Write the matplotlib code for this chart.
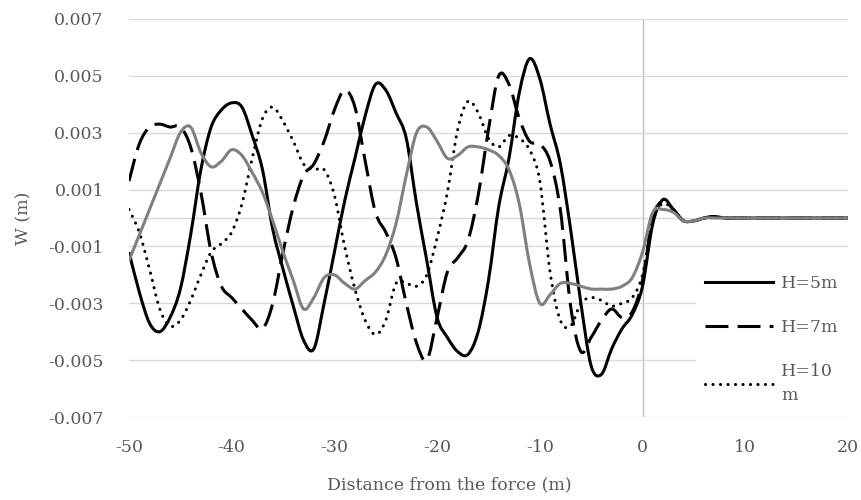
import matplotlib
matplotlib.use("Agg")
import matplotlib.pyplot as plt
from matplotlib.ticker import FixedLocator
from matplotlib.path import Path
from matplotlib.patches import PathPatch
from matplotlib.lines import Line2D

# Distance from the applied force (m)
distance = list(range(-50, 21))

# Vertical displacement W (m) for each water depth
w_h5 = [-0.0012, -0.0026, -0.0037, -0.0040, -0.0035, -0.0025, -0.0006, 0.0017, 0.0032, 0.0038,
        0.00405, 0.0039, 0.0029, 0.0017, -0.0004, -0.0018, -0.0031, -0.0043, -0.0046, -0.0030,
        -0.0012, 0.0006, 0.0021, 0.0036, 0.0047, 0.0045, 0.0037, 0.0028, 0.0005, -0.0015,
        -0.0035, -0.0042, -0.0047, -0.0048, -0.0040, -0.0022, 0.0004, 0.0021, 0.0044, 0.0056,
        0.0049, 0.0033, 0.0019, -0.0004, -0.0030, -0.0052, -0.0055, -0.0046, -0.0039, -0.0034,
        -0.0024, -0.0002, 0.00065, 0.0003, -0.0001, -0.0001, 0.0, 0.00005, 0.0, 0.0,
        0.0, 0.0, 0.0, 0.0, 0.0, 0.0, 0.0, 0.0, 0.0, 0.0, 0.0]

w_h7 = [0.0013, 0.0026, 0.0032, 0.0033, 0.0032, 0.0032, 0.0025, 0.0009, -0.0012, -0.0024,
        -0.0028, -0.0032, -0.0036, -0.0039, -0.0030, -0.0012, 0.0004, 0.0015, 0.0019, 0.0027,
        0.0038, 0.0045, 0.0039, 0.0020, 0.0002, -0.0005, -0.0014, -0.0030, -0.0044, -0.0050,
        -0.0035, -0.0019, -0.0014, -0.0008, 0.0008, 0.0031, 0.0050, 0.0047, 0.0035, 0.0027,
        0.0026, 0.0020, 0.0003, -0.0031, -0.0047, -0.0042, -0.0036, -0.0032, -0.0035, -0.0033,
        -0.0022, 0.0000, 0.0006, 0.0003, -0.0001, -0.0001, 0.0, 0.00005, 0.0, 0.0,
        0.0, 0.0, 0.0, 0.0, 0.0, 0.0, 0.0, 0.0, 0.0, 0.0, 0.0]

w_h10 = [0.0003, -0.0005, -0.0018, -0.0032, -0.0038, -0.0036, -0.0029, -0.0020, -0.0012, -0.0009,
         -0.0005, 0.0005, 0.0021, 0.0035, 0.0039, 0.0034, 0.0027, 0.0019, 0.0017, 0.0017,
         0.0008, -0.0010, -0.0025, -0.0036, -0.0041, -0.0036, -0.0023, -0.0023, -0.0024, -0.0020,
         -0.0007, 0.0009, 0.0031, 0.0041, 0.0037, 0.0028, 0.0025, 0.0029, 0.0028, 0.0024,
         0.0013, -0.0019, -0.0036, -0.0038, -0.0030, -0.0028, -0.0029, -0.0031, -0.0030, -0.0028,
         -0.0020, 0.0000, 0.0005, 0.0003, -0.0001, -0.0001, 0.0, 0.00005, 0.0, 0.0,
         0.0, 0.0, 0.0, 0.0, 0.0, 0.0, 0.0, 0.0, 0.0, 0.0, 0.0]

w_grey = [-0.0015, -0.0006, 0.0003, 0.0012, 0.0021, 0.0030, 0.0032, 0.0023, 0.0018, 0.0020,
          0.0024, 0.0022, 0.0016, 0.0009, -0.0001, -0.0012, -0.0022, -0.0032, -0.0028, -0.0021,
          -0.0020, -0.0023, -0.0025, -0.0022, -0.0019, -0.0013, -0.0002, 0.0015, 0.0030, 0.0032,
          0.0027, 0.0021, 0.0022, 0.0025, 0.0025, 0.0024, 0.0022, 0.0017, 0.0005, -0.0016,
          -0.0030, -0.0027, -0.0023, -0.0023, -0.0024, -0.0025, -0.0025, -0.0025, -0.0024, -0.0021,
          -0.0012, 0.0002, 0.0003, 0.0002, -0.0001, -0.0001, 0.0, 0.0, 0.0, 0.0,
          0.0, 0.0, 0.0, 0.0, 0.0, 0.0, 0.0, 0.0, 0.0, 0.0, 0.0]

series_labels = ["H=5m", "H=7m", "H=10\nm"]
x_ticks = [-50, -40, -30, -20, -10, 0, 10, 20]
y_ticks = [-0.007, -0.005, -0.003, -0.001, 0.001, 0.003, 0.005, 0.007]
y_tick_labels = ["-0.007", "-0.005", "-0.003", "-0.001", "0.001", "0.003", "0.005", "0.007"]
x_tick_labels = ["-50", "-40", "-30", "-20", "-10", "0", "10", "20"]

text_color = "#595959"
grid_color = "#d9d9d9"
plt.rcParams["font.family"] = ["DejaVu Serif"]


def smooth_path(xs, ys):
    """Catmull-Rom style smoothed line through the data points, as cubic Bezier segments."""
    pts = list(zip(xs, ys))
    n = len(pts)
    verts = [pts[0]]
    codes = [Path.MOVETO]
    for i in range(n - 1):
        p0 = pts[i - 1] if i > 0 else pts[i]
        p1 = pts[i]
        p2 = pts[i + 1]
        p3 = pts[i + 2] if i + 2 < n else pts[i + 1]
        c1 = (p1[0] + (p2[0] - p0[0]) / 6.0, p1[1] + (p2[1] - p0[1]) / 6.0)
        c2 = (p2[0] - (p3[0] - p1[0]) / 6.0, p2[1] - (p3[1] - p1[1]) / 6.0)
        verts += [c1, c2, p2]
        codes += [Path.CURVE4] * 3
    return Path(verts, codes)


fig = plt.figure(figsize=(8.61, 5.0), dpi=100)
ax = fig.add_axes([0.1498, 0.166, 0.835, 0.796])

lw = 2.2
styles = [
    dict(color="black", linestyle="-", capstyle="butt"),
    dict(color="black", linestyle=(0, (7.5, 3.0)), capstyle="butt"),
    dict(color="black", linestyle=(0, (0.05, 2.4)), capstyle="round"),
    dict(color="#808080", linestyle="-", capstyle="butt"),
]
for ys, st in zip([w_h5, w_h7, w_h10, w_grey], styles):
    patch = PathPatch(smooth_path(distance, ys), fill=False, edgecolor=st["color"],
                      lw=lw, linestyle=st["linestyle"], capstyle=st["capstyle"],
                      joinstyle="round", zorder=3)
    ax.add_patch(patch)

ax.set_xlim(-50, 20)
ax.set_ylim(-0.007, 0.007)
ax.xaxis.set_major_locator(FixedLocator(x_ticks))
ax.set_xticklabels(x_tick_labels)
ax.yaxis.set_major_locator(FixedLocator(y_ticks))
ax.set_yticklabels(y_tick_labels)
ax.tick_params(axis="both", length=0, labelsize=12.5, labelcolor=text_color)
ax.tick_params(axis="y", pad=18)
ax.tick_params(axis="x", pad=16)

for s in ax.spines.values():
    s.set_visible(False)
ax.grid(axis="y", color=grid_color, lw=1.0, zorder=0)
ax.axhline(0, color=grid_color, lw=1.0, zorder=1)
ax.axvline(0, color="#bfbfbf", lw=1.0, zorder=1)

ax.set_xlabel("Distance from the force (m)", fontsize=12.5, color=text_color)
ax.set_ylabel("W (m)", fontsize=12.5, color=text_color)
ax.xaxis.set_label_coords(0.446, -0.148)
ax.yaxis.set_label_coords(-0.134, 0.5)

handles = [
    Line2D([], [], color="black", lw=lw),
    Line2D([], [], color="black", lw=lw, dashes=[7.5, 3.0]),
    Line2D([], [], color="black", lw=lw, dashes=[0.05, 2.4], dash_capstyle="round"),
]
leg = ax.legend(handles, series_labels, loc="upper left", bbox_to_anchor=(0.777, 0.40),
                frameon=True, facecolor="white", edgecolor="none", framealpha=1.0,
                fontsize=12.5, handlelength=3.9, handletextpad=0.5, labelspacing=1.55,
                borderpad=0.5)
for t in leg.get_texts():
    t.set_color(text_color)
    t.set_linespacing(1.55)
leg.set_zorder(5)

fig.savefig("out.png", dpi=100)
